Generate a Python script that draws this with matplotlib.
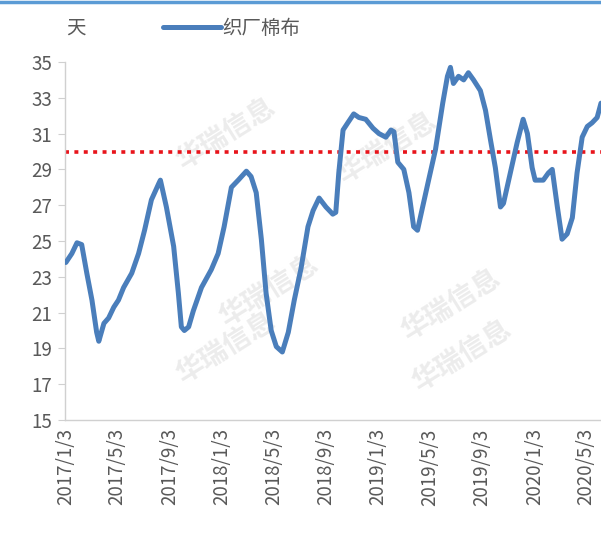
import numpy as np
import pandas as pd
import matplotlib
matplotlib.use('Agg')
import matplotlib.pyplot as plt

plt.rcParams['font.family'] = ['Noto Sans CJK SC', 'DejaVu Sans']

# weekly days-of-inventory for woven cotton fabric
dates = ['2017-01-03', '2017-01-17', '2017-01-29', '2017-02-09', '2017-02-21', '2017-03-05',
         '2017-03-16', '2017-03-21', '2017-04-02', '2017-04-13', '2017-04-25', '2017-05-06',
         '2017-05-18', '2017-06-06', '2017-06-22', '2017-07-06', '2017-07-22', '2017-08-08',
         '2017-08-12', '2017-08-26', '2017-09-12', '2017-09-23', '2017-09-30', '2017-10-07',
         '2017-10-17', '2017-10-28', '2017-11-16', '2017-12-09', '2017-12-25', '2018-01-08',
         '2018-01-25', '2018-02-10', '2018-03-01', '2018-03-12', '2018-03-24', '2018-04-05',
         '2018-04-16', '2018-04-28', '2018-05-10', '2018-05-24', '2018-06-07', '2018-06-21',
         '2018-07-07', '2018-07-23', '2018-08-04', '2018-08-18', '2018-09-03', '2018-09-19',
         '2018-09-26', '2018-10-03', '2018-10-13', '2018-10-24', '2018-11-07', '2018-11-19',
         '2018-12-05', '2018-12-22', '2019-01-05', '2019-01-21', '2019-02-02', '2019-02-09',
         '2019-02-18', '2019-03-04', '2019-03-16', '2019-03-27', '2019-04-05', '2019-04-17',
         '2019-05-01', '2019-05-17', '2019-06-03', '2019-06-14', '2019-06-21', '2019-06-28',
         '2019-07-10', '2019-07-22', '2019-08-02', '2019-08-14', '2019-08-30', '2019-09-11',
         '2019-09-23', '2019-10-04', '2019-10-16', '2019-10-23', '2019-11-08', '2019-11-24',
         '2019-12-08', '2019-12-18', '2019-12-29', '2020-01-05', '2020-01-24', '2020-02-05',
         '2020-02-14', '2020-02-26', '2020-03-08', '2020-03-20', '2020-04-01', '2020-04-12',
         '2020-04-24', '2020-05-06', '2020-05-17', '2020-05-29', '2020-06-07']
days = [23.8, 24.3, 24.9, 24.8, 23.2, 21.7,
        19.9, 19.4, 20.4, 20.7, 21.3, 21.7,
        22.4, 23.2, 24.3, 25.6, 27.3, 28.2,
        28.4, 26.9, 24.7, 22.1, 20.2, 20.0,
        20.2, 21.1, 22.4, 23.4, 24.3, 25.8,
        28.0, 28.4, 28.9, 28.6, 27.7, 25.1,
        22.1, 20.0, 19.1, 18.8, 19.9, 21.7,
        23.5, 25.8, 26.7, 27.4, 26.9, 26.5,
        26.6, 28.8, 31.2, 31.6, 32.1, 31.9,
        31.8, 31.3, 31.0, 30.8, 31.2, 31.1,
        29.4, 29.0, 27.7, 25.8, 25.6, 26.9,
        28.4, 30.1, 32.7, 34.2, 34.7, 33.8,
        34.2, 34.0, 34.4, 34.0, 33.4, 32.3,
        30.6, 29.1, 26.9, 27.1, 28.8, 30.5,
        31.8, 31.0, 29.1, 28.4, 28.4, 28.8,
        29.0, 26.9, 25.1, 25.4, 26.3, 28.8,
        30.8, 31.4, 31.6, 31.9, 32.7]
ref_level = 30
tick_dates = ['2017-01-03', '2017-05-03', '2017-09-03', '2018-01-03', '2018-05-03', '2018-09-03',
              '2019-01-03', '2019-05-03', '2019-09-03', '2020-01-03', '2020-05-03']
tick_labels = ['2017/1/3', '2017/5/3', '2017/9/3', '2018/1/3', '2018/5/3', '2018/9/3',
               '2019/1/3', '2019/5/3', '2019/9/3', '2020/1/3', '2020/5/3']

x = pd.to_datetime(dates)
ticks = pd.to_datetime(tick_dates)

fig = plt.figure(figsize=(6.01, 5.33), dpi=100)
ax = fig.add_axes([65 / 601, 1 - 420 / 533, 1 - 65 / 601, (420 - 62) / 533])

# faint watermark
for wx, wy in [(0.30, 0.80), (0.60, 0.76), (0.38, 0.36), (0.72, 0.32), (0.30, 0.20), (0.74, 0.18)]:
    ax.text(wx, wy, '华瑞信息', transform=ax.transAxes, rotation=32, fontsize=20,
            fontweight='bold', color='#ececec', ha='center', va='center', zorder=0)

ax.plot(x, days, color='#4a7ebb', lw=3.6, solid_joinstyle='round', solid_capstyle='round',
        zorder=3, label='织厂棉布')
ax.axhline(ref_level, color='#e8141b', lw=2.6, linestyle=(0, (1.1, 1.5)), zorder=2)

ax.set_ylim(15, 35)
ax.set_yticks(np.arange(15, 36, 2))
ax.set_xlim(pd.Timestamp('2017-01-01'), pd.Timestamp('2020-06-07'))
ax.set_xticks(ticks)
ax.set_xticklabels(tick_labels, rotation=90)

for s in ['top', 'right']:
    ax.spines[s].set_visible(False)
for s in ['left', 'bottom']:
    ax.spines[s].set_color('#d0d0d0')
    ax.spines[s].set_linewidth(1.0)
ax.tick_params(axis='y', colors='#d0d0d0', length=5, labelcolor='#595959', labelsize=13.5, pad=4)
ax.tick_params(axis='x', length=0, labelcolor='#595959', labelsize=13.5, pad=6)

# unit and legend above the plot
fig.text(66 / 601, 1 - 28 / 533, '天', fontsize=14, color='#595959', ha='left', va='center')
fig.legend(loc='center left', bbox_to_anchor=(145 / 601, 1 - 28 / 533), frameon=False,
           fontsize=14, handlelength=3.0, handletextpad=0.1, labelcolor='#595959')

# blue frame edge along the top
fig.add_artist(plt.Line2D([0, 1], [0.997, 0.997], transform=fig.transFigure,
                          color='#5b9bd5', lw=2.5))

fig.savefig('out.png', dpi=100)
